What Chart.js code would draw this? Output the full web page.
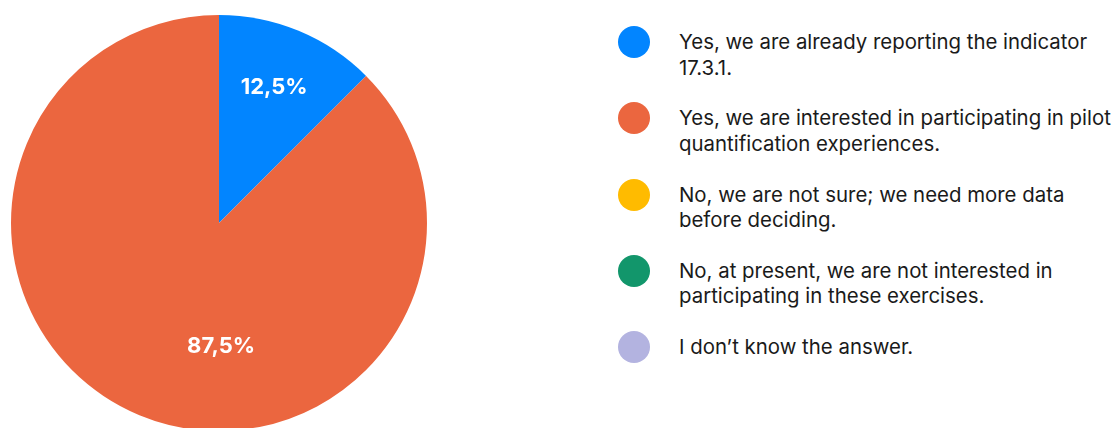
<!DOCTYPE html>
<html>
<head>
<meta charset="utf-8">
<script src="https://cdn.jsdelivr.net/npm/chart.js@4"></script>
<style>
    html, body { margin: 0; padding: 0; background: #fff; overflow: hidden; }
    body { width: 1114px; height: 428px; position: relative; font-family: Inter, "Noto Sans", sans-serif; }
    .pie-wrap { position: absolute; left: 11px; top: 15px; width: 416px; height: 416px; }
    .legend { position: absolute; left: 618px; top: 26px; width: 496px; }
    .legend-item { position: relative; height: 76.25px; }
    .legend-dot { position: absolute; left: 0; top: 0; width: 32px; height: 32px; border-radius: 50%; }
    .legend-text { position: absolute; left: 61px; top: 3px; font-size: 20.4px; line-height: 25.5px; color: #1a1a1a; white-space: nowrap; }
</style>
</head>
<body>
<div class="pie-wrap"><canvas id="answersPie"></canvas></div>
<div class="legend" id="answersLegend"></div>
<script>
// Data
const answerLabels = [
    ['Yes, we are already reporting the indicator', '17.3.1.'],
    ['Yes, we are interested in participating in pilot', 'quantification experiences.'],
    ['No, we are not sure; we need more data', 'before deciding.'],
    ['No, at present, we are not interested in', 'participating in these exercises.'],
    ["I don\u2019t know the answer."]
];
const answerShares = [12.5, 87.5, 0, 0, 0];
const answerColors = ['#0285FF', '#EB663F', '#FFBB00', '#12966B', '#B3B3E0'];

// where the percent text sits inside each slice (fraction of radius, from centre)
const labelOffsets = [[0.265, -0.65], [0.01, 0.595]];

const sliceLabels = {
    id: 'sliceLabels',
    afterDatasetsDraw(chart) {
        const ctx = chart.ctx;
        const meta = chart.getDatasetMeta(0);
        ctx.save();
        ctx.fillStyle = '#ffffff';
        ctx.font = 'bold 22px Inter, "Noto Sans", sans-serif';
        ctx.textAlign = 'center';
        ctx.textBaseline = 'middle';
        meta.data.forEach((arc, i) => {
            const v = answerShares[i];
            if (!v || !labelOffsets[i]) return;
            const r = arc.outerRadius;
            const x = arc.x + labelOffsets[i][0] * r;
            const y = arc.y + labelOffsets[i][1] * r;
            ctx.fillText(v.toFixed(1).replace('.', ',') + '%', x, y);
        });
        ctx.restore();
    }
};

function drawAnswersPie() {
    const ctx = document.getElementById('answersPie').getContext('2d');
    new Chart(ctx, {
        type: 'pie',
        data: {
            labels: answerLabels.map(l => l.join(' ')),
            datasets: [{
                data: answerShares,
                backgroundColor: answerColors,
                borderWidth: 0
            }]
        },
        options: {
            responsive: true,
            maintainAspectRatio: false,
            animation: false,
            layout: { padding: 0 },
            plugins: {
                legend: { display: false },
                tooltip: { enabled: false }
            }
        },
        plugins: [sliceLabels]
    });
}

function buildLegend() {
    const box = document.getElementById('answersLegend');
    box.innerHTML = '';
    answerLabels.forEach((lines, i) => {
        const item = document.createElement('div');
        item.className = 'legend-item';
        item.innerHTML = `
            <span class="legend-dot" style="background:${answerColors[i]}"></span>
            <span class="legend-text">${lines.join('<br>')}</span>
        `;
        box.appendChild(item);
    });
}

drawAnswersPie();
buildLegend();
</script>
</body>
</html>
